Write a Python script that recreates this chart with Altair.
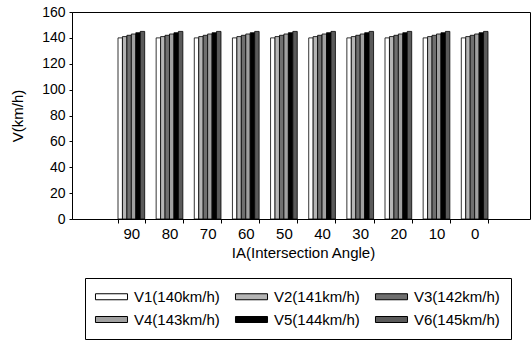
import altair as alt
import pandas as pd

angles = ["90", "80", "70", "60", "50", "40", "30", "20", "10", "0"]
series = ["V1(140km/h)", "V2(141km/h)", "V3(142km/h)", "V4(143km/h)", "V5(144km/h)", "V6(145km/h)"]
speeds = [140, 141, 142, 143, 144, 145]
fills = ["#ffffff", "#b5b5b5", "#6f6f6f", "#a0a0a0", "#000000", "#5a5a5a"]

rows = []
for a in angles:
    for s, v in zip(series, speeds):
        rows.append({"angle": a, "series": s, "speed": v})
df = pd.DataFrame(rows)

FONT = "Liberation Sans"

bars = alt.Chart(df).mark_bar(stroke="black", strokeWidth=0.8).encode(
    x=alt.X("angle:N", sort=angles,
            scale=alt.Scale(paddingInner=0.3, paddingOuter=0, range=[46, 416]),
            axis=alt.Axis(title="IA(Intersection Angle)", labelAngle=0, tickBand="extent",
                          tickSize=4, labelPadding=3, titlePadding=4,
                          labelFontSize=15, titleFontSize=15, titleFontWeight="normal",
                          labelColor="black", titleColor="black", domainColor="black",
                          tickColor="black", labelFont=FONT, titleFont=FONT)),
    xOffset=alt.XOffset("series:N", sort=series,
                        scale=alt.Scale(paddingInner=0, paddingOuter=0)),
    y=alt.Y("speed:Q", scale=alt.Scale(domain=[0, 160], nice=False),
            axis=alt.Axis(title="V(km/h)", values=[0, 20, 40, 60, 80, 100, 120, 140, 160],
                          grid=False, tickSize=3, labelPadding=4, titlePadding=16,
                          labelFontSize=14, titleFontSize=15, titleFontWeight="normal",
                          labelColor="black", titleColor="black", domainColor="black",
                          tickColor="black", labelFont=FONT, titleFont=FONT)),
    fill=alt.Fill("series:N", sort=series,
                  scale=alt.Scale(domain=series, range=fills),
                  legend=alt.Legend(title=None, orient="none", legendX=13, legendY=266,
                                    columns=3, direction="horizontal",
                                    symbolType="M-2.67,-0.5L2.67,-0.5L2.67,0.5L-2.67,0.5Z",
                                    symbolSize=144, symbolStrokeColor="black",
                                    symbolStrokeWidth=1, symbolOpacity=1,
                                    labelFontSize=15, labelFont=FONT, labelColor="black",
                                    labelLimit=200, columnPadding=13, rowPadding=7,
                                    padding=11, strokeColor="black",
                                    symbolOffset=8, labelOffset=15)),
)

chart = bars.properties(
    width=458, height=207,
    autosize=alt.AutoSizeParams(type="none"),
    padding={"left": 72, "top": 12, "right": 2, "bottom": 124},
    view=alt.ViewBackground(stroke="black", strokeWidth=1),
).configure(background="white")

chart.save("out.html", embed_options={"renderer": "svg", "actions": False})
